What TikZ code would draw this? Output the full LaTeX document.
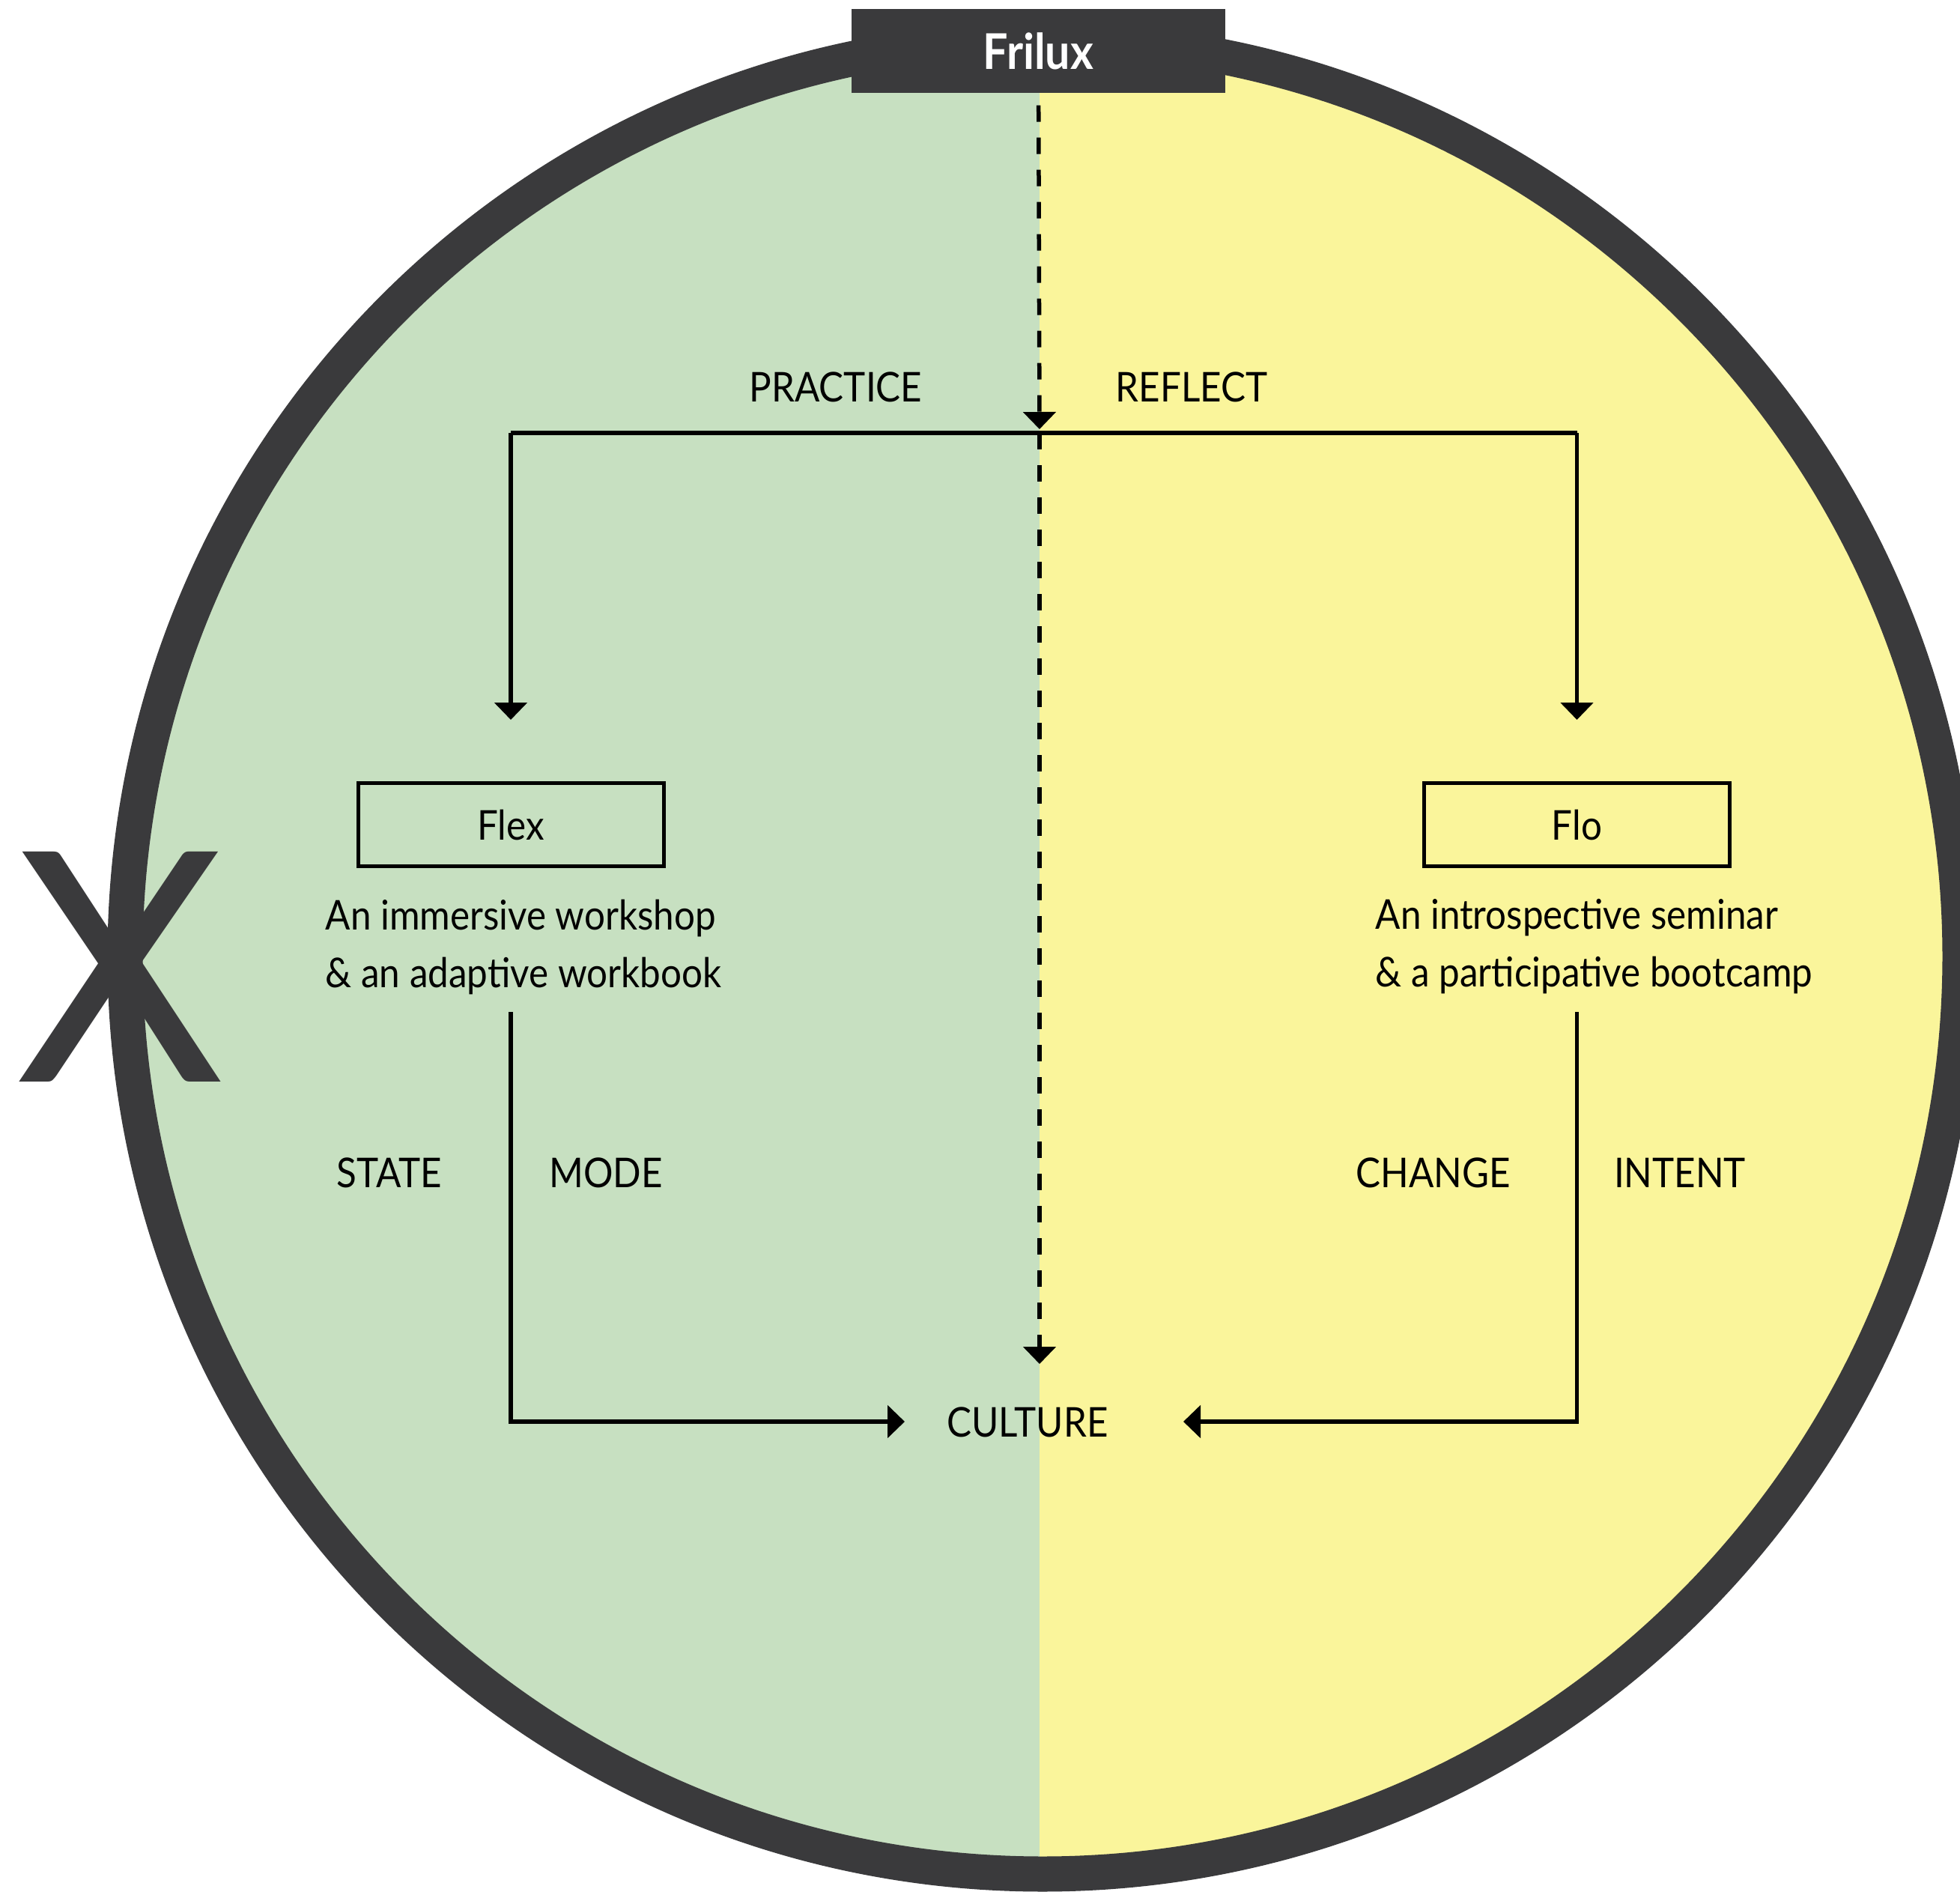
\documentclass[tikz,border=0pt]{standalone}
\usepackage{fontspec}
\setmainfont{Lato}[FakeStretch=0.9]
\newfontfamily\markfont{Lato}
\usetikzlibrary{positioning,calc,arrows.meta}

\definecolor{leafgreen}{HTML}{C7E0C1}
\definecolor{lemon}{HTML}{FAF59B}
\definecolor{ringgray}{HTML}{3A3A3C}

\begin{document}
\begin{tikzpicture}[
    flowline/.style={line width=0.055cm, color=black},
    arrowed/.style={-{Triangle[width=0.43cm, length=0.23cm]}},
    dashline/.style={dash pattern=on 0.22cm off 0.21cm},
    stagebox/.style={draw, line width=0.05cm, minimum width=4.08cm, minimum height=1.11cm, inner sep=0pt, font=\fontsize{15.6}{18}\selectfont},
    blurb/.style={align=left, anchor=base west, inner sep=0pt, font=\fontsize{15.6}{21.9}\selectfont},
    keyword/.style={anchor=base, inner sep=0pt, font=\fontsize{15.6}{18}\selectfont}
]

% Page frame
\useasboundingbox (0,0) rectangle (26.17,-25.26);
\clip (0,0) rectangle (26.17,-25.26);

% Two halves inside the ring
\begin{scope}
  \clip (13.92,-12.77) circle (12.02);
  \fill[leafgreen] (0,0) rectangle (13.88,-25.26);
  \fill[lemon] (13.88,0) rectangle (26.17,-25.26);
\end{scope}
\draw[line width=0.47cm, ringgray] (13.92,-12.77) circle (12.25);

% Big letter on the ring
\node[anchor=base, inner sep=0pt, text=ringgray, font=\markfont\fontsize{122}{122}\selectfont] (mark) at (1.61,-14.44) {X};

% Title tab
\node[fill=ringgray, text=white, minimum width=4.99cm, minimum height=1.12cm, inner sep=0pt, font=\fontsize{18.7}{20}\selectfont\bfseries] (brand) at (13.865,-0.68) {Frilux};

% Define node positions
\node[stagebox] (flex) at (6.82,-11.01) {Flex};
\node[stagebox] (flo) at (21.055,-11.01) {Flo};
\node[blurb] (flexnote) at (4.34,-13.18) {An immersive workshop\\\& an adaptive workbook};
\node[blurb] (flonote) at (18.36,-13.17) {An introspective seminar\\\& a participative bootcamp};

\node[keyword] (practice) at (11.16,-5.36) {PRACTICE};
\node[keyword] (reflect) at (15.91,-5.36) {REFLECT};
\node[keyword] (state) at (5.20,-15.85) {STATE};
\node[keyword] (mode) at (8.09,-15.85) {MODE};
\node[keyword] (change) at (19.14,-15.85) {CHANGE};
\node[keyword] (intent) at (22.43,-15.85) {INTENT};
\node[keyword] (culture) at (13.72,-19.18) {CULTURE};

% Junctions
\coordinate (hub) at (13.88,-5.78);
\coordinate (forkl) at (flex |- hub);
\coordinate (forkr) at (flo |- hub);
\coordinate (sink) at (13.88,-18.21);
\coordinate (flexout) at (6.82,-13.51);
\coordinate (floout) at (21.055,-13.51);
\coordinate (sinkl) at (12.08,-18.98);
\coordinate (sinkr) at (15.80,-18.98);

% Draw connectors
\draw[flowline, dashline, arrowed, shorten <=0.16cm, shorten >=0.05cm] (brand) -- (hub);
\draw[flowline, dashline, arrowed] (hub) -- (sink);
\draw[flowline] (forkl) -- (forkr);
\draw[flowline, arrowed, shorten >=0.82cm] (forkl) -- (flex);
\draw[flowline, arrowed, shorten >=0.82cm] (forkr) -- (flo);
\draw[flowline, arrowed] (flexout) |- (sinkl);
\draw[flowline, arrowed] (floout) |- (sinkr);

\end{tikzpicture}
\end{document}
